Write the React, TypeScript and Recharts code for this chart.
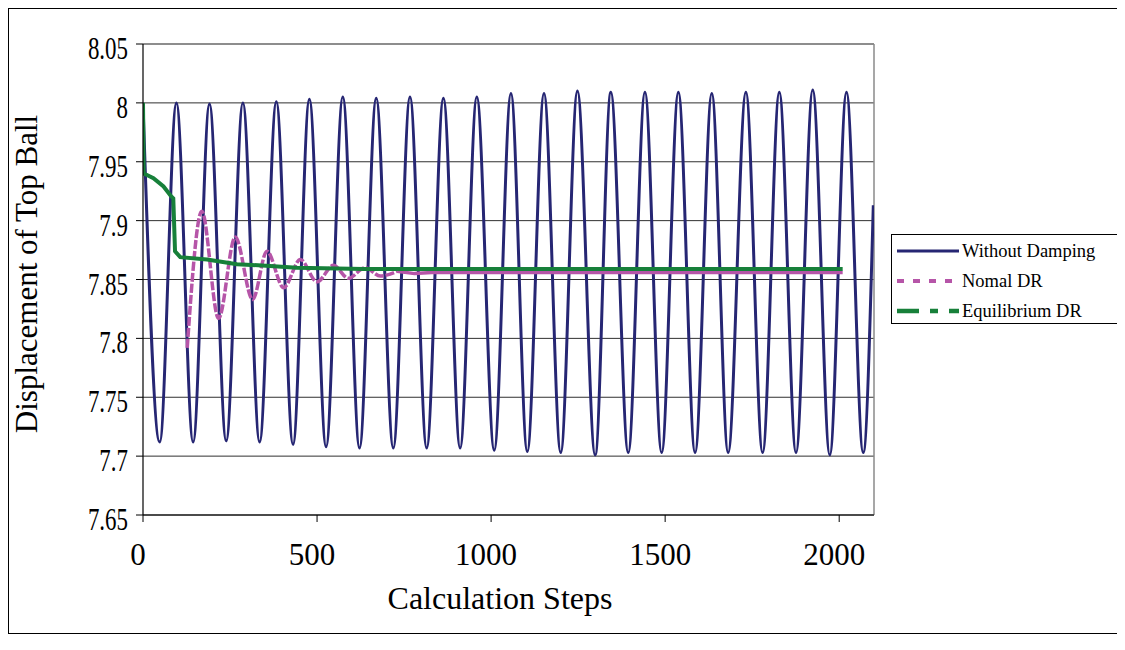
import React from 'react';
import { LineChart, Line, XAxis, YAxis, CartesianGrid, ReferenceLine, Label } from 'recharts';

// ---- data ----
const noDampSteps = [0, 48, 96, 144, 191, 239, 287, 335, 383, 431, 478, 526, 574, 622, 670, 719, 767, 815, 863, 911, 959, 1009, 1057, 1104, 1152, 1200, 1248, 1299, 1344, 1394, 1442, 1490, 1538, 1586, 1634, 1681, 1732, 1780, 1828, 1876, 1924, 1973, 2021, 2069, 2098];
const noDampValues = [8.0, 7.712, 8.0, 7.712, 7.999, 7.713, 8.0, 7.712, 8.001, 7.71, 8.003, 7.708, 8.005, 7.707, 8.004, 7.707, 8.005, 7.707, 8.004, 7.707, 8.005, 7.705, 8.008, 7.704, 8.008, 7.703, 8.01, 7.701, 8.009, 7.703, 8.009, 7.703, 8.009, 7.703, 8.008, 7.703, 8.009, 7.703, 8.009, 7.703, 8.011, 7.701, 8.009, 7.703, 7.913];

const nomalSteps = [127, 169, 217, 265, 315, 356, 404, 452, 500, 547, 590, 638, 682, 730, 780, 830, 2010];
const nomalValues = [7.792, 7.908, 7.817, 7.886, 7.833, 7.874, 7.843, 7.867, 7.848, 7.862, 7.851, 7.86, 7.853, 7.857, 7.855, 7.856, 7.856];
const nomalSettledStep = 730;

const eqSteps = [0, 2, 10, 30, 59, 80, 87, 92, 107, 184, 270, 365, 442, 634, 2010];
const eqValues = [8.0, 7.94, 7.939, 7.936, 7.929, 7.921, 7.919, 7.874, 7.869, 7.867, 7.863, 7.8615, 7.86, 7.859, 7.859];

const xTicks = [0, 500, 1000, 1500, 2000];
const yTicks = [7.65, 7.7, 7.75, 7.8, 7.85, 7.9, 7.95, 8.0, 8.05];
const seriesNames = ['Without Damping', 'Nomal DR', 'Equilibrium DR'];
const xTitle = 'Calculation Steps';
const yTitle = 'Displacement of Top Ball';

// ---- styles ----
const FONT = '"Liberation Serif", "Times New Roman", serif';
const NAVY = '#262673';
const MAGENTA = '#B655A8';
const GREEN = '#17803A';

const toRows = (steps: number[], values: number[]) => steps.map((step, i) => ({ step, value: values[i] }));
const noDampData = toRows(noDampSteps, noDampValues);
const nomalAll = toRows(nomalSteps, nomalValues);
const nomalOsc = nomalAll.filter((d) => d.step <= nomalSettledStep);
const nomalFlat = nomalAll.filter((d) => d.step >= nomalSettledStep);
const eqData = toRows(eqSteps, eqValues);

const YTick = (props: any) => {
  const { x, y, payload } = props;
  return (
    <text
      x={0}
      y={0}
      dy={15}
      transform={`translate(${x},${y}) scale(0.74,1)`}
      textAnchor="end"
      fontSize={31}
      fontFamily={FONT}
      fill="#000"
    >
      {String(parseFloat(Number(payload.value).toFixed(2)))}
    </text>
  );
};

const XTick = (props: any) => {
  const { x, y, payload } = props;
  return (
    <text x={x - 5} y={y} dy={43} textAnchor="middle" fontSize={31} fontFamily={FONT} fill="#000">
      {String(payload.value)}
    </text>
  );
};

const legendItems = [
  { name: seriesNames[0], color: NAVY, width: 3, dash: undefined as string | undefined },
  { name: seriesNames[1], color: MAGENTA, width: 4, dash: '7 9' },
  { name: seriesNames[2], color: GREEN, width: 4.5, dash: '22 11 8 11' },
];

export default function App() {
  return (
    <div
      style={{
        position: 'relative',
        width: 1110,
        height: 624,
        borderTop: '1px solid #000',
        borderLeft: '1px solid #000',
        borderBottom: '1px solid #000',
        background: '#fff',
      }}
    >
      <LineChart
        width={1110}
        height={624}
        margin={{ top: 35, right: 245, bottom: 0, left: 0 }}
      >
        <CartesianGrid horizontal vertical={false} stroke="#1a1a1a" strokeOpacity={0.9} />
        <XAxis
          type="number"
          dataKey="step"
          domain={[0, 2100]}
          ticks={xTicks}
          allowDataOverflow
          height={118}
          stroke="#000"
          tickSize={7}
          tickMargin={0}
          tick={<XTick />}
          axisLine={{ stroke: '#000', strokeWidth: 1.2 }}
        >
          <Label
            content={() => (
              <text x={491} y={600} textAnchor="middle" fontSize={32} fontFamily={FONT} fill="#000">
                {xTitle}
              </text>
            )}
          />
        </XAxis>
        <YAxis
          type="number"
          domain={[7.65, 8.05]}
          ticks={yTicks}
          allowDataOverflow
          width={134}
          tickSize={7}
          tickMargin={8}
          tick={<YTick />}
          stroke="#000"
          axisLine={{ stroke: '#000', strokeWidth: 1.2 }}
        >
          <Label
            content={() => (
              <text
                x={28}
                y={265}
                transform="rotate(-90 28 265)"
                textAnchor="middle"
                fontSize={31}
                fontFamily={FONT}
                fill="#000"
              >
                {yTitle}
              </text>
            )}
          />
        </YAxis>
        <ReferenceLine y={8.05} stroke="#8a8a8a" strokeWidth={1.5} />
        <ReferenceLine x={2100} stroke="#8a8a8a" strokeWidth={1.5} />
        <Line
          data={noDampData}
          dataKey="value"
          type="monotone"
          stroke={NAVY}
          strokeWidth={3}
          dot={false}
          isAnimationActive={false}
          name={seriesNames[0]}
        />
        <Line
          data={nomalOsc}
          dataKey="value"
          type="monotone"
          stroke={MAGENTA}
          strokeWidth={3.5}
          strokeDasharray="9 2"
          dot={false}
          isAnimationActive={false}
          name={seriesNames[1]}
        />
        <Line
          data={nomalFlat}
          dataKey="value"
          type="linear"
          stroke={MAGENTA}
          strokeWidth={3.5}
          dot={false}
          isAnimationActive={false}
          name={seriesNames[1] + ' '}
        />
        <Line
          data={eqData}
          dataKey="value"
          type="linear"
          stroke={GREEN}
          strokeWidth={4}
          dot={false}
          isAnimationActive={false}
          name={seriesNames[2]}
        />
      </LineChart>
      <div
        style={{
          position: 'absolute',
          left: 882,
          top: 225,
          width: 226,
          height: 88,
          border: '1px solid #000',
          background: '#fff',
          fontFamily: FONT,
          fontSize: 18.5,
          color: '#000',
        }}
      >
        {legendItems.map((it, i) => (
          <div
            key={it.name}
            style={{ position: 'absolute', left: 5, top: 6 + i * 30, height: 20, display: 'flex', alignItems: 'center', whiteSpace: 'nowrap' }}
          >
            <svg width={62} height={20} style={{ display: 'block' }}>
              <line x1={0} y1={10} x2={62} y2={10} stroke={it.color} strokeWidth={it.width} strokeDasharray={it.dash} />
            </svg>
            <span style={{ marginLeft: 3, lineHeight: '20px' }}>{it.name}</span>
          </div>
        ))}
      </div>
    </div>
  );
}
